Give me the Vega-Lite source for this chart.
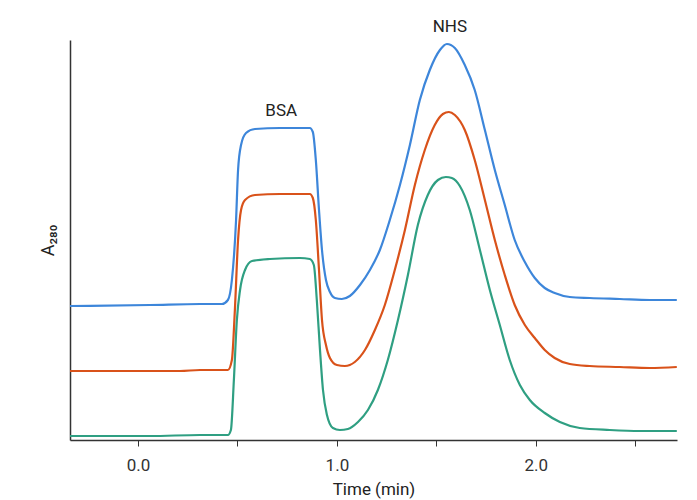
{
  "$schema": "https://vega.github.io/schema/vega-lite/v6.json",
  "width": 607,
  "height": 400,
  "autosize": {"type": "none"},
  "padding": {"left": 70, "top": 40, "right": 20, "bottom": 60},
  "config": {
    "view": {"stroke": null},
    "font": "Roboto",
    "axis": {"grid": false, "domainColor": "#333333", "domainWidth": 1.5, "tickColor": "#333333", "labelColor": "#333333", "titleColor": "#222222", "labelFontSize": 17, "titleFontSize": 17, "titleFontWeight": "normal", "labelFont": "Roboto", "titleFont": "Roboto"}
  },
  "datasets": {
    "curves": [
      {"series": "blue", "t": -0.342, "A": 33.5},
      {"series": "blue", "t": 0.060, "A": 33.75},
      {"series": "blue", "t": 0.312, "A": 34},
      {"series": "blue", "t": 0.422, "A": 34},
      {"series": "blue", "t": 0.452, "A": 35},
      {"series": "blue", "t": 0.472, "A": 40},
      {"series": "blue", "t": 0.493, "A": 55},
      {"series": "blue", "t": 0.503, "A": 67.5},
      {"series": "blue", "t": 0.518, "A": 73.75},
      {"series": "blue", "t": 0.543, "A": 76.75},
      {"series": "blue", "t": 0.588, "A": 77.75},
      {"series": "blue", "t": 0.714, "A": 78},
      {"series": "blue", "t": 0.864, "A": 78},
      {"series": "blue", "t": 0.879, "A": 77},
      {"series": "blue", "t": 0.894, "A": 70},
      {"series": "blue", "t": 0.910, "A": 57.5},
      {"series": "blue", "t": 0.925, "A": 47.5},
      {"series": "blue", "t": 0.945, "A": 40},
      {"series": "blue", "t": 0.965, "A": 37},
      {"series": "blue", "t": 0.990, "A": 35.5},
      {"series": "blue", "t": 1.025, "A": 35.25},
      {"series": "blue", "t": 1.065, "A": 36},
      {"series": "blue", "t": 1.116, "A": 38.75},
      {"series": "blue", "t": 1.166, "A": 42.5},
      {"series": "blue", "t": 1.216, "A": 47.5},
      {"series": "blue", "t": 1.266, "A": 55},
      {"series": "blue", "t": 1.317, "A": 63.75},
      {"series": "blue", "t": 1.367, "A": 73.75},
      {"series": "blue", "t": 1.417, "A": 85},
      {"series": "blue", "t": 1.467, "A": 92.5},
      {"series": "blue", "t": 1.518, "A": 97.5},
      {"series": "blue", "t": 1.553, "A": 99},
      {"series": "blue", "t": 1.593, "A": 98},
      {"series": "blue", "t": 1.643, "A": 93.75},
      {"series": "blue", "t": 1.693, "A": 87.5},
      {"series": "blue", "t": 1.744, "A": 77.5},
      {"series": "blue", "t": 1.794, "A": 67.5},
      {"series": "blue", "t": 1.844, "A": 58.75},
      {"series": "blue", "t": 1.894, "A": 50},
      {"series": "blue", "t": 1.945, "A": 44.5},
      {"series": "blue", "t": 1.995, "A": 40.5},
      {"series": "blue", "t": 2.045, "A": 38},
      {"series": "blue", "t": 2.095, "A": 36.75},
      {"series": "blue", "t": 2.171, "A": 35.75},
      {"series": "blue", "t": 2.271, "A": 35.5},
      {"series": "blue", "t": 2.422, "A": 35.25},
      {"series": "blue", "t": 2.573, "A": 35},
      {"series": "blue", "t": 2.709, "A": 35},
      {"series": "orange", "t": -0.342, "A": 17.25},
      {"series": "orange", "t": 0.060, "A": 17.25},
      {"series": "orange", "t": 0.211, "A": 17.25},
      {"series": "orange", "t": 0.312, "A": 17.5},
      {"series": "orange", "t": 0.452, "A": 17.5},
      {"series": "orange", "t": 0.472, "A": 20},
      {"series": "orange", "t": 0.487, "A": 32.5},
      {"series": "orange", "t": 0.503, "A": 50},
      {"series": "orange", "t": 0.518, "A": 57.5},
      {"series": "orange", "t": 0.538, "A": 60},
      {"series": "orange", "t": 0.588, "A": 61.25},
      {"series": "orange", "t": 0.714, "A": 61.5},
      {"series": "orange", "t": 0.864, "A": 61.5},
      {"series": "orange", "t": 0.879, "A": 60.5},
      {"series": "orange", "t": 0.894, "A": 55},
      {"series": "orange", "t": 0.910, "A": 42.5},
      {"series": "orange", "t": 0.925, "A": 30},
      {"series": "orange", "t": 0.945, "A": 23.75},
      {"series": "orange", "t": 0.965, "A": 20.5},
      {"series": "orange", "t": 1.000, "A": 18.75},
      {"series": "orange", "t": 1.040, "A": 18.5},
      {"series": "orange", "t": 1.090, "A": 19.5},
      {"series": "orange", "t": 1.141, "A": 22.5},
      {"series": "orange", "t": 1.191, "A": 27.5},
      {"series": "orange", "t": 1.241, "A": 33.75},
      {"series": "orange", "t": 1.291, "A": 42.5},
      {"series": "orange", "t": 1.342, "A": 52.5},
      {"series": "orange", "t": 1.392, "A": 63.75},
      {"series": "orange", "t": 1.442, "A": 72.5},
      {"series": "orange", "t": 1.492, "A": 78.75},
      {"series": "orange", "t": 1.533, "A": 81.5},
      {"series": "orange", "t": 1.563, "A": 82},
      {"series": "orange", "t": 1.593, "A": 81.25},
      {"series": "orange", "t": 1.643, "A": 77.5},
      {"series": "orange", "t": 1.693, "A": 70},
      {"series": "orange", "t": 1.744, "A": 60},
      {"series": "orange", "t": 1.794, "A": 50},
      {"series": "orange", "t": 1.844, "A": 41.25},
      {"series": "orange", "t": 1.894, "A": 33.75},
      {"series": "orange", "t": 1.945, "A": 28.75},
      {"series": "orange", "t": 1.995, "A": 25.5},
      {"series": "orange", "t": 2.045, "A": 22.5},
      {"series": "orange", "t": 2.095, "A": 20.5},
      {"series": "orange", "t": 2.171, "A": 19},
      {"series": "orange", "t": 2.271, "A": 18.5},
      {"series": "orange", "t": 2.422, "A": 18.25},
      {"series": "orange", "t": 2.573, "A": 18},
      {"series": "orange", "t": 2.709, "A": 18.25},
      {"series": "green", "t": -0.342, "A": 1},
      {"series": "green", "t": 0.060, "A": 1},
      {"series": "green", "t": 0.312, "A": 1.25},
      {"series": "green", "t": 0.452, "A": 1.25},
      {"series": "green", "t": 0.467, "A": 2.5},
      {"series": "green", "t": 0.482, "A": 15},
      {"series": "green", "t": 0.497, "A": 30},
      {"series": "green", "t": 0.513, "A": 37.5},
      {"series": "green", "t": 0.538, "A": 42.5},
      {"series": "green", "t": 0.573, "A": 44.75},
      {"series": "green", "t": 0.663, "A": 45.25},
      {"series": "green", "t": 0.814, "A": 45.5},
      {"series": "green", "t": 0.864, "A": 45.25},
      {"series": "green", "t": 0.884, "A": 43.75},
      {"series": "green", "t": 0.899, "A": 35},
      {"series": "green", "t": 0.915, "A": 22.5},
      {"series": "green", "t": 0.930, "A": 12.5},
      {"series": "green", "t": 0.950, "A": 6.25},
      {"series": "green", "t": 0.980, "A": 3},
      {"series": "green", "t": 1.015, "A": 2.5},
      {"series": "green", "t": 1.055, "A": 2.75},
      {"series": "green", "t": 1.106, "A": 4.5},
      {"series": "green", "t": 1.156, "A": 7.5},
      {"series": "green", "t": 1.206, "A": 12.5},
      {"series": "green", "t": 1.256, "A": 20},
      {"series": "green", "t": 1.307, "A": 30},
      {"series": "green", "t": 1.357, "A": 41.25},
      {"series": "green", "t": 1.407, "A": 53.75},
      {"series": "green", "t": 1.457, "A": 61.25},
      {"series": "green", "t": 1.508, "A": 65},
      {"series": "green", "t": 1.548, "A": 65.75},
      {"series": "green", "t": 1.578, "A": 65.5},
      {"series": "green", "t": 1.618, "A": 63.5},
      {"series": "green", "t": 1.668, "A": 57.5},
      {"series": "green", "t": 1.719, "A": 47.5},
      {"series": "green", "t": 1.769, "A": 37.5},
      {"series": "green", "t": 1.819, "A": 28.75},
      {"series": "green", "t": 1.869, "A": 20},
      {"series": "green", "t": 1.920, "A": 13.75},
      {"series": "green", "t": 1.970, "A": 10},
      {"series": "green", "t": 2.045, "A": 6.75},
      {"series": "green", "t": 2.121, "A": 4.5},
      {"series": "green", "t": 2.221, "A": 3},
      {"series": "green", "t": 2.372, "A": 2.5},
      {"series": "green", "t": 2.523, "A": 2.25},
      {"series": "green", "t": 2.709, "A": 2.25}
    ],
    "labels": [
      {"label": "BSA", "t": 0.72, "A": 82.25},
      {"label": "NHS", "t": 1.568, "A": 103.25}
    ]
  },
  "layer": [
    {
      "data": {"name": "curves"},
      "mark": {"type": "line", "interpolate": "monotone", "strokeWidth": 2.2, "clip": false},
      "encoding": {
        "x": {
          "field": "t", "type": "quantitative",
          "scale": {"domain": [-0.342, 2.71], "nice": false, "zero": false},
          "axis": {
            "title": "Time (min)", "values": [0, 0.5, 1, 1.5, 2, 2.5],
            "labelExpr": "datum.value % 1 == 0 ? format(datum.value, '.1f') : ''",
            "tickSize": 6, "labelPadding": 11, "titlePadding": 8
          }
        },
        "y": {
          "field": "A", "type": "quantitative",
          "scale": {"domain": [0, 100], "nice": false},
          "axis": {"title": "A₂₈₀", "labels": false, "ticks": false, "titlePadding": 13, "titleFontSize": 18}
        },
        "color": {
          "field": "series", "type": "nominal", "legend": null,
          "scale": {"domain": ["blue", "orange", "green"], "range": ["#3d86da", "#d9521a", "#2f9f82"]}
        },
        "detail": {"field": "series"}
      }
    },
    {
      "data": {"name": "labels"},
      "mark": {"type": "text", "fontSize": 17, "color": "#222222", "font": "Roboto"},
      "encoding": {
        "x": {"field": "t", "type": "quantitative"},
        "y": {"field": "A", "type": "quantitative"},
        "text": {"field": "label"}
      }
    }
  ]
}
